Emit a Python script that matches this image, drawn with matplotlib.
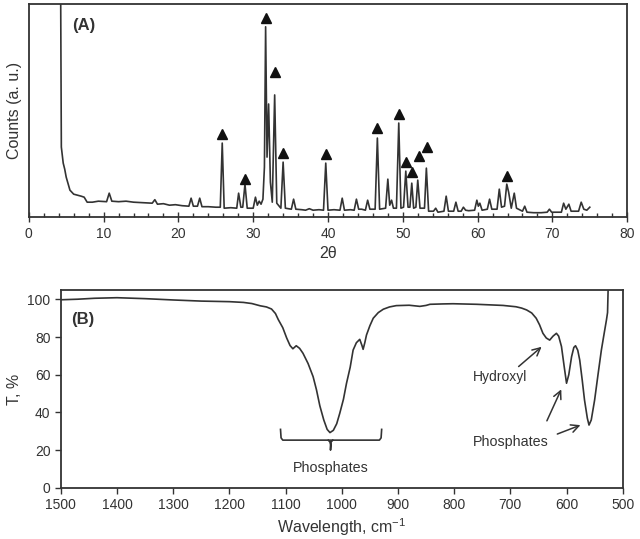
import numpy as np
import matplotlib.pyplot as plt

plt.rcParams['font.family'] = ['Liberation Sans', 'DejaVu Sans']
plt.rcParams['mathtext.fontset'] = 'custom'
plt.rcParams['mathtext.rm'] = 'Liberation Sans'
plt.rcParams['mathtext.default'] = 'regular'

gris = '#333333'

# (A) XRD (2theta, coups a.u.)
two_theta = [4.25, 4.35, 4.6, 4.8, 5.0, 5.5, 6.0, 6.5, 7.0, 7.4, 7.8, 8.5, 9.3, 10.4, 10.75, 11.1,
             12.0, 13.0, 14.0, 15.2, 16.5, 16.85, 17.2, 18.0, 18.8, 19.6, 20.5, 21.4, 21.7, 22.0,
             22.55, 22.85, 23.15, 24.0, 25.0, 25.6, 25.86, 26.12, 27.0, 27.8, 28.05, 28.35, 28.6,
             28.9, 29.2, 30.0, 30.3, 30.55, 30.8, 31.05, 31.3, 31.5, 31.66, 31.85, 32.06, 32.3,
             32.55, 32.87, 33.15, 33.7, 34.0, 34.3, 35.1, 35.4, 35.7, 36.5, 37.0, 37.5, 38.0, 38.8,
             39.4, 39.7, 40.0, 40.8, 41.6, 41.9, 42.2, 43.0, 43.5, 43.8, 44.1, 44.5, 45.0, 45.3,
             45.6, 46.3, 46.6, 46.9, 47.7, 48.0, 48.25, 48.5, 48.75, 49.15, 49.46, 49.75, 50.1,
             50.4, 50.7, 50.95, 51.2, 51.45, 51.75, 52.0, 52.3, 52.9, 53.15, 53.45, 54.1, 54.4,
             54.7, 55.5, 55.8, 56.1, 56.8, 57.1, 57.4, 57.8, 58.1, 58.4, 58.8, 59.6, 59.9, 60.1,
             60.3, 60.6, 61.3, 61.6, 61.9, 62.6, 62.9, 63.2, 63.6, 63.9, 64.15, 64.5, 64.9, 65.2,
             66.0, 66.3, 66.6, 67.5, 68.5, 69.3, 69.6, 69.9, 71.2, 71.5, 71.8, 72.2, 72.5, 73.5,
             73.85, 74.2, 74.6, 75.0]
counts = [240, 70, 54, 48, 40, 27, 23, 22, 21, 20, 15, 15, 16, 15.5, 24, 16,
          15.5, 16, 15, 14.5, 14, 17.5, 13, 13.5, 12, 12.5, 11.5, 11, 19, 11,
          11, 19, 10.5, 10.5, 10, 10, 74, 9, 9.5, 9, 24, 10, 10,
          33, 9, 9, 20, 12, 16, 13, 18, 50, 190, 60, 113, 35,
          15, 122, 14, 9, 55, 9, 8, 18, 8, 7.5, 7, 8.5, 7, 7.5,
          7, 54, 7, 7.5, 7, 19, 7, 7.5, 7, 18, 8, 8, 7, 17,
          8, 8, 79, 8, 9, 38, 12, 17, 9, 9, 94, 9, 10,
          46, 10, 10, 34, 9, 10, 37, 9, 9, 49, 6, 6, 9,
          5, 6, 21, 6, 6, 15, 6, 6, 10, 7, 6.5, 7, 17, 11,
          14, 7, 8, 18, 8, 8, 28, 10, 11, 33, 25, 9, 24, 9,
          6, 11, 5, 4.5, 4.5, 5, 8, 5, 5, 14, 8, 13, 6, 6,
          15, 8, 7, 10]

# triangles (pics indexes)
tri_x = [25.86, 28.9, 31.66, 32.85, 34.05, 39.7, 46.6, 49.46, 50.4, 51.2, 52.15, 53.2, 63.95]
tri_y = [83, 38, 199, 145, 64, 63, 89, 103, 55, 45, 61, 70, 41]

# (B) FTIR - nombre d'onde (cm-1) et transmittance (%)
nombre_onde = [1500, 1470, 1440, 1400, 1350, 1300, 1250, 1200, 1175, 1160, 1145, 1134, 1125,
               1118, 1113, 1105, 1098, 1092, 1087, 1081, 1075, 1069, 1060, 1051, 1045, 1039,
               1032, 1026, 1021, 1015, 1009, 1003.6, 997, 991.6, 985, 979.8, 974, 968, 964,
               962, 959, 956, 950, 944, 935, 926, 915, 903, 880, 861, 850, 843, 820, 802, 760,
               713, 690, 680, 671, 662, 654, 648, 642, 636, 630, 624, 618, 614, 609, 604, 600,
               596, 591, 587, 584, 580, 576.5, 572, 568, 563, 560, 556, 550, 544, 538, 533, 529,
               527, 526, 525]
transmittance = [99.8, 100.1, 100.6, 100.9, 100.4, 99.7, 99.1, 98.8, 98.4, 97.8, 96.6, 96.0, 94.9,
                 92.5, 89.3, 85, 79.5, 75.5, 73.8, 75.4, 74, 71.4, 66, 59, 52, 43.5,
                 36, 31, 29.3, 30.5, 34, 39.5, 47, 55.4, 64, 73.1, 77, 78.8, 75.5,
                 73.5, 77, 81.1, 86, 90, 93, 94.8, 96, 96.7, 96.9, 96.3, 96.8, 97.4, 97.6, 97.7, 97.4,
                 96.8, 96.1, 95.4, 94.4, 92.8, 90, 86.5, 82, 79.5, 78.4, 80.5, 82, 80.5, 75, 64, 55.5,
                 60, 69.6, 74.5, 75.4, 73, 67.8, 57, 46.6, 37, 33.3, 36, 46.6, 60, 73.1, 82, 89,
                 93, 105, 110]

# accolade "Phosphates"
accolade_x = [1109, 1108, 1105, 933, 930, 929]
accolade_y = [31, 26.5, 25.3, 25.3, 26.5, 31]
tige_x = [1024, 1021, 1020, 1020, 1019, 1016]
tige_y = [25.3, 24.3, 23, 20, 24.3, 25.3]

fig = plt.figure(figsize=(6.4, 5.39), dpi=100)

# ---------- (A)
ax1 = fig.add_axes([0.045, 0.597, 0.935, 0.396])
ax1.plot(two_theta, counts, color=gris, linewidth=1.2)
ax1.plot(tri_x, tri_y, linestyle='none', marker='^', markersize=7.5, color='#111111')
ax1.set_xlim(0, 80)
ax1.set_ylim(0, 213)
ax1.set_xticks(np.arange(0, 81, 10))
ax1.set_xticks(np.arange(0, 81, 2), minor=True)
ax1.set_yticks([])
ax1.tick_params(axis='x', which='major', direction='inout', length=7, width=1, colors=gris,
                labelsize=10)
ax1.tick_params(axis='x', which='minor', direction='in', length=3, width=1, colors=gris)
ax1.set_xlabel('2θ', fontsize=11.5, color=gris, labelpad=4)
ax1.set_ylabel('Counts (a. u.)', fontsize=11.5, color=gris, labelpad=5)
ax1.text(0.073, 0.90, '(A)', transform=ax1.transAxes, fontsize=12, fontweight='bold',
         color=gris, va='center')
for s in ax1.spines.values():
    s.set_color(gris)
    s.set_linewidth(1.3)

# ---------- (B)
ax2 = fig.add_axes([0.095, 0.095, 0.878, 0.367])
ax2.plot(nombre_onde, transmittance, color=gris, linewidth=1.2)
ax2.set_xlim(1500, 500)
ax2.set_ylim(0, 105)
ax2.set_xticks(np.arange(1500, 499, -100))
ax2.set_yticks(np.arange(0, 101, 20))
ax2.tick_params(direction='out', length=4, width=1, colors=gris, labelsize=10)
ax2.set_xlabel('Wavelength, cm$^{-1}$', fontsize=11.5, color=gris, labelpad=3)
ax2.set_ylabel('T, %', fontsize=11.5, color=gris, labelpad=4)
ax2.text(0.019, 0.85, '(B)', transform=ax2.transAxes, fontsize=12, fontweight='bold',
         color=gris, va='center')
for s in ax2.spines.values():
    s.set_color(gris)
    s.set_linewidth(1.3)

ax2.plot(accolade_x, accolade_y, color=gris, linewidth=1.2)
ax2.plot(tige_x, tige_y, color=gris, linewidth=1.2)
ax2.text(1020, 10.3, 'Phosphates', ha='center', va='center', fontsize=10.3, color=gris)

fleche = dict(arrowstyle='->', color=gris, linewidth=1.1, mutation_scale=14)
ax2.annotate('', xy=(640.6, 75.8), xytext=(689, 63.4), arrowprops=fleche)
ax2.text(719, 59, 'Hydroxyl', ha='center', va='center', fontsize=10, color=gris)
ax2.annotate('', xy=(607.3, 53.6), xytext=(637, 34.2), arrowprops=fleche)
ax2.annotate('', xy=(570.6, 33.8), xytext=(621, 28), arrowprops=fleche)
ax2.text(700, 24.4, 'Phosphates', ha='center', va='center', fontsize=10.3, color=gris)

plt.savefig('out.png', dpi=100)
